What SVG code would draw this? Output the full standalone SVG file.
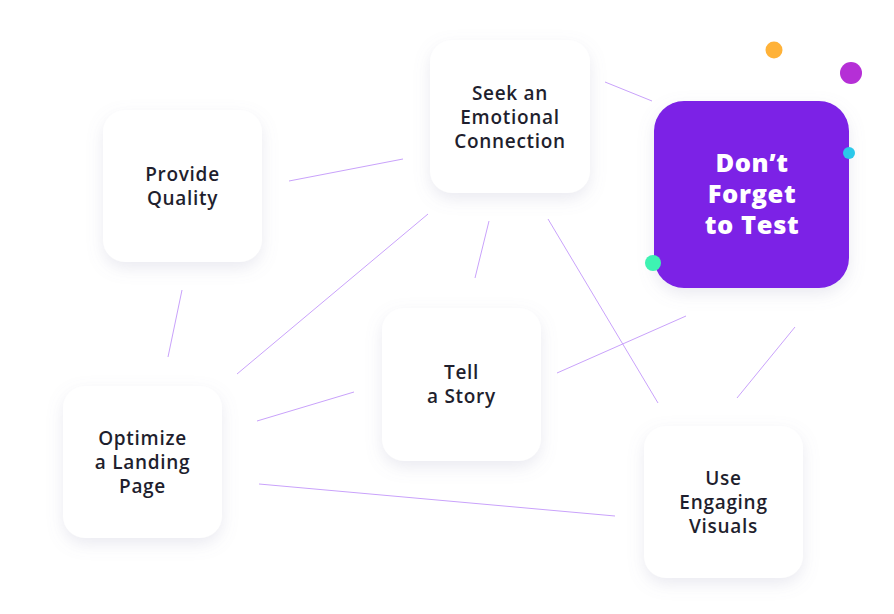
<svg xmlns="http://www.w3.org/2000/svg" width="894" height="614" viewBox="0 0 894 614">
<defs>
<filter id="sh" x="-30%" y="-30%" width="160%" height="170%">
<feDropShadow dx="0" dy="6" stdDeviation="8" flood-color="#8a8ab0" flood-opacity="0.18"/>
</filter>
<style>
.card{fill:#ffffff;filter:url(#sh)}
.lbl{font-family:"Open Sans","Liberation Sans",sans-serif;font-size:19px;font-weight:600;letter-spacing:0.7px;fill:#1f1f2e;text-anchor:middle}
.big{font-family:"Open Sans","Liberation Sans",sans-serif;font-size:25.5px;font-weight:800;letter-spacing:0.6px;fill:#ffffff;text-anchor:middle}
.con line{stroke:#c9a2fb;stroke-width:1}
</style>
</defs>
<rect width="894" height="614" fill="#ffffff"/>
<g class="con" id="connectors">
<line x1="289" y1="181" x2="403" y2="159"/>
<line x1="605" y1="82" x2="652" y2="101"/>
<line x1="168" y1="357" x2="182" y2="290"/>
<line x1="237" y1="374" x2="428" y2="214"/>
<line x1="475" y1="278" x2="489" y2="221"/>
<line x1="548" y1="219" x2="658" y2="403"/>
<line x1="557" y1="373" x2="686" y2="316"/>
<line x1="737" y1="398" x2="795" y2="327"/>
<line x1="257" y1="421" x2="354" y2="392"/>
<line x1="259" y1="484" x2="615" y2="516"/>
</g>
<g id="provide-quality">
<rect class="card" x="103" y="110" width="159" height="152" rx="22"/>
<text class="lbl" x="182.5" y="181">Provide</text>
<text class="lbl" x="182.5" y="205">Quality</text>
</g>
<g id="seek-connection">
<rect class="card" x="430" y="40" width="160" height="153" rx="22"/>
<text class="lbl" x="510" y="100">Seek an</text>
<text class="lbl" x="510" y="124">Emotional</text>
<text class="lbl" x="510" y="148">Connection</text>
</g>
<g id="dont-forget">
<rect x="654" y="101" width="195" height="187" rx="30" fill="#7b22e6" filter="url(#sh)"/>
<text class="big" x="752" y="172">Don’t</text>
<text class="big" x="752" y="203">Forget</text>
<text class="big" x="752" y="234">to Test</text>
</g>
<g id="tell-story">
<rect class="card" x="382" y="308" width="159" height="153" rx="22"/>
<text class="lbl" x="461.5" y="379">Tell</text>
<text class="lbl" x="461.5" y="403">a Story</text>
</g>
<g id="optimize-landing">
<rect class="card" x="63" y="386" width="159" height="152" rx="22"/>
<text class="lbl" x="142.5" y="445">Optimize</text>
<text class="lbl" x="142.5" y="469">a Landing</text>
<text class="lbl" x="142.5" y="493">Page</text>
</g>
<g id="use-visuals">
<rect class="card" x="644" y="426" width="159" height="152" rx="22"/>
<text class="lbl" x="723.5" y="485">Use</text>
<text class="lbl" x="723.5" y="509">Engaging</text>
<text class="lbl" x="723.5" y="533">Visuals</text>
</g>
<g id="dots">
<circle cx="774" cy="50" r="8.5" fill="#ffb238"/>
<circle cx="851" cy="73" r="11" fill="#b52fd6"/>
<circle cx="849" cy="153" r="6" fill="#2bc8ea"/>
<circle cx="653" cy="263" r="8" fill="#3ef2b2"/>
</g>
</svg>
